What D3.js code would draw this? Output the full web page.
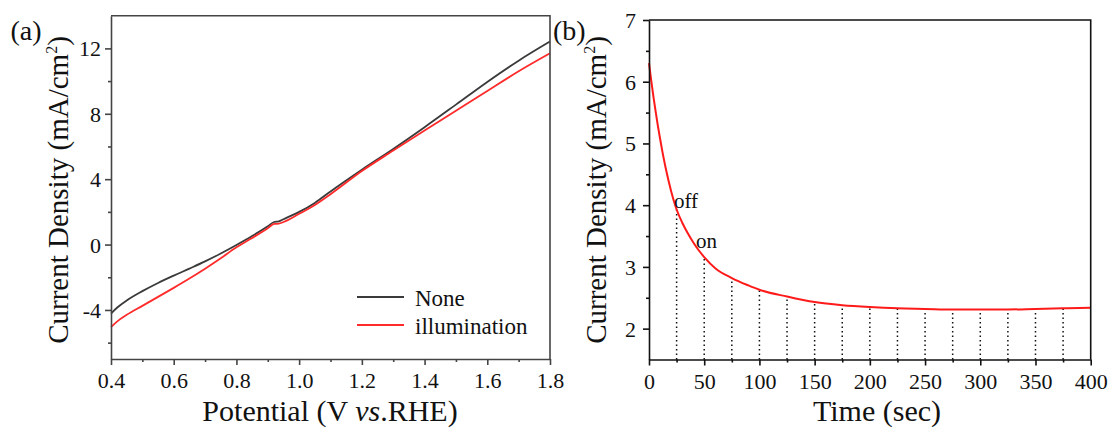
<!DOCTYPE html>
<html>
<head>
<meta charset="utf-8">
<script src="https://cdn.jsdelivr.net/npm/d3@7"></script>
<style>
body { margin: 0; background: #fff; }
text { font-family: "Liberation Serif", "Times New Roman", serif; }
</style>
</head>
<body>
<svg id="chart" width="1113" height="430"></svg>
<script>
// panel (a): LSV curves
var potential    = [0.40, 0.42, 0.45, 0.50, 0.55, 0.60, 0.65, 0.70, 0.75, 0.80, 0.85, 0.90, 0.92, 0.935, 0.95, 1.00, 1.05, 1.10, 1.20, 1.30, 1.40, 1.50, 1.60, 1.70, 1.80];
var currentNone  = [-4.22, -3.85, -3.42, -2.85, -2.35, -1.90, -1.47, -1.03, -0.55, -0.03, 0.52, 1.12, 1.38, 1.42, 1.55, 2.00, 2.55, 3.25, 4.58, 5.85, 7.18, 8.56, 9.95, 11.25, 12.42];
var currentIllum = [-5.05, -4.70, -4.30, -3.75, -3.20, -2.65, -2.08, -1.48, -0.84, -0.17, 0.40, 1.00, 1.26, 1.28, 1.38, 1.88, 2.42, 3.08, 4.50, 5.75, 6.98, 8.18, 9.40, 10.60, 11.70];
var seriesNames  = ["None", "illumination"];
var seriesColors = ["#3a3a3a", "#ff2a2a"];
var potTicks     = [0.4, 0.6, 0.8, 1.0, 1.2, 1.4, 1.6, 1.8];
var curTicksA    = [-4, 0, 4, 8, 12];

// panel (b): chopped light i-t curve
var time         = [0, 2, 4, 6, 8, 10, 12, 15, 20, 25, 30, 35, 40, 45, 50, 60, 75, 90, 100, 125, 150, 175, 200, 225, 250, 275, 300, 325, 350, 375, 400];
var currentTime  = [6.30, 6.02, 5.76, 5.52, 5.29, 5.08, 4.88, 4.61, 4.23, 3.93, 3.72, 3.55, 3.40, 3.27, 3.16, 2.98, 2.82, 2.70, 2.63, 2.52, 2.43, 2.38, 2.35, 2.33, 2.32, 2.31, 2.31, 2.31, 2.32, 2.33, 2.34];
var switchTimes  = [25, 50, 75, 100, 125, 150, 175, 200, 225, 250, 275, 300, 325, 350, 375];
var timeTicks    = [0, 50, 100, 150, 200, 250, 300, 350, 400];
var curTicksB    = [2, 3, 4, 5, 6, 7];

var svg = d3.select("#chart");
var serif = "'Liberation Serif', 'Times New Roman', serif";

// small helper to draw a framed panel with outward ticks
function drawAxes(g, x, y, o) {
    var x0 = x.range()[0], x1 = x.range()[1];
    var y0 = y.range()[0], y1 = y.range()[1];

    // minor ticks first
    g.append("g")
        .attr("transform", "translate(0," + y0 + ")")
        .call(d3.axisBottom(x).tickValues(o.xMinor).tickSize(3).tickFormat(""))
        .call(a => a.select(".domain").remove());
    g.append("g")
        .attr("transform", "translate(" + x0 + ",0)")
        .call(d3.axisLeft(y).tickValues(o.yMinor).tickSize(3).tickFormat(""))
        .call(a => a.select(".domain").remove());

    var xa = g.append("g")
        .attr("transform", "translate(0," + y0 + ")")
        .call(d3.axisBottom(x).tickValues(o.xTicks).tickSize(6).tickSizeOuter(0).tickFormat(o.xFormat));
    xa.selectAll("text").attr("y", 29).attr("dy", 0);

    var ya = g.append("g")
        .attr("transform", "translate(" + x0 + ",0)")
        .call(d3.axisLeft(y).tickValues(o.yTicks).tickSize(6).tickSizeOuter(0).tickFormat(d => String(d)));
    ya.selectAll("text").attr("x", o.yLabelGap).attr("dy", "0.34em");

    g.selectAll(".tick text")
        .style("font-family", serif)
        .style("font-size", "22px")
        .attr("fill", "#111");
    g.selectAll(".tick line, .domain").attr("stroke", o.frame).attr("stroke-width", 1.6);

    // top and right border
    g.append("path")
        .attr("d", "M" + x0 + "," + y1 + "H" + x1 + "V" + y0)
        .attr("fill", "none")
        .attr("stroke", o.frame)
        .attr("stroke-width", 1.6);
}

function rangeStep(a, b, s) { return d3.range(a, b + s / 2, s); }

var yTitle = "Current Density (mA/cm<tspan font-size='16' dy='-11'>2</tspan><tspan dy='11'>)</tspan>";

// ---------- panel (a) ----------
var xA = d3.scaleLinear().domain([0.4, 1.8]).range([111, 550]);
var yA = d3.scaleLinear().domain([-7, 14]).range([359, 15.7]);
var gA = svg.append("g");

var lineA = d3.line().x(d => xA(d[0])).y(d => yA(d[1])).curve(d3.curveMonotoneX);
[currentNone, currentIllum].forEach(function(vals, k) {
    gA.append("path")
        .datum(potential.map((v, i) => [v, vals[i]]))
        .attr("d", lineA)
        .attr("fill", "none")
        .attr("stroke", seriesColors[k])
        .attr("stroke-width", 1.8);
});

drawAxes(gA, xA, yA, {
    xTicks: potTicks,
    xMinor: rangeStep(0.5, 1.7, 0.2),
    yTicks: curTicksA,
    yMinor: [-6, -2, 2, 6, 10],
    xFormat: d3.format(".1f"),
    yLabelGap: -10,
    frame: "#444"
});

// legend
seriesNames.forEach(function(name, k) {
    var ly = 297 + k * 28;
    gA.append("line")
        .attr("x1", 357).attr("x2", 404)
        .attr("y1", ly).attr("y2", ly)
        .attr("stroke", seriesColors[k])
        .attr("stroke-width", 1.8);
    gA.append("text")
        .attr("x", 415).attr("y", ly + 8.5)
        .attr("font-size", 23)
        .attr("fill", "#111")
        .text(name);
});

gA.append("text")
    .attr("x", 330).attr("y", 421)
    .attr("text-anchor", "middle")
    .attr("font-size", 30)
    .attr("fill", "#111")
    .html("Potential (V <tspan font-style='italic'>vs</tspan>.RHE)");

gA.append("text")
    .attr("transform", "translate(68,190) rotate(-90)")
    .attr("text-anchor", "middle")
    .attr("font-size", 29)
    .attr("fill", "#111")
    .html(yTitle);

gA.append("text")
    .attr("x", 10.5).attr("y", 40)
    .attr("font-size", 28)
    .attr("fill", "#111")
    .text("(a)");

// ---------- panel (b) ----------
var xB = d3.scaleLinear().domain([0, 400]).range([649, 1090.7]);
var yB = d3.scaleLinear().domain([1.5, 7]).range([359.5, 20]);
var gB = svg.append("g");

// dotted on/off markers up to the curve
var valueAt = d3.scaleLinear().domain(time).range(currentTime);
gB.selectAll(".switch")
    .data(switchTimes)
    .enter()
    .append("line")
    .attr("class", "switch")
    .attr("x1", d => xB(d)).attr("x2", d => xB(d))
    .attr("y1", yB(1.5)).attr("y2", d => yB(valueAt(d)))
    .attr("stroke", "#111")
    .attr("stroke-width", 1.5)
    .attr("stroke-dasharray", "1.5,3");

gB.append("path")
    .datum(time.map((t, i) => [t, currentTime[i]]))
    .attr("d", d3.line().x(d => xB(d[0])).y(d => yB(d[1])).curve(d3.curveMonotoneX))
    .attr("fill", "none")
    .attr("stroke", "#ff1a1a")
    .attr("stroke-width", 2);

drawAxes(gB, xB, yB, {
    xTicks: timeTicks,
    xMinor: rangeStep(25, 375, 50),
    yTicks: curTicksB,
    yMinor: rangeStep(2.5, 6.5, 1),
    xFormat: d => String(d),
    yLabelGap: -13,
    frame: "#111"
});

gB.append("text").attr("x", 674).attr("y", 208).attr("font-size", 21).attr("fill", "#111").text("off");
gB.append("text").attr("x", 696).attr("y", 248).attr("font-size", 21).attr("fill", "#111").text("on");

gB.append("text")
    .attr("x", 877).attr("y", 421)
    .attr("text-anchor", "middle")
    .attr("font-size", 30)
    .attr("fill", "#111")
    .text("Time (sec)");

gB.append("text")
    .attr("transform", "translate(606,190) rotate(-90)")
    .attr("text-anchor", "middle")
    .attr("font-size", 29)
    .attr("fill", "#111")
    .html(yTitle);

gB.append("text")
    .attr("x", 553).attr("y", 40)
    .attr("font-size", 28)
    .attr("fill", "#111")
    .text("(b)");
</script>
</body>
</html>
